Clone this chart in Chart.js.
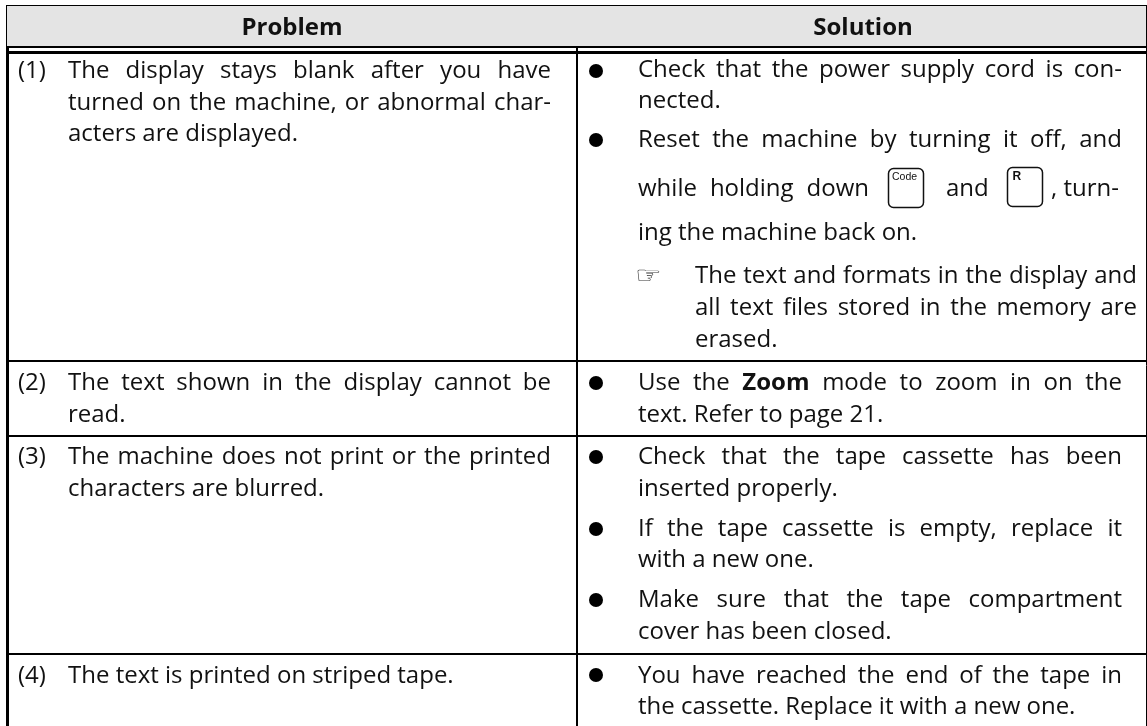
<!DOCTYPE html>
<html lang="en">
<head>
<meta charset="UTF-8">
<title>Troubleshooting</title>
<style>
	html, body { margin: 0; padding: 0; background: #fff; }
	canvas { display: block; }
</style>
</head>
<body>
<canvas id="tableChart" width="1147" height="726"></canvas>
<script src="https://cdn.jsdelivr.net/npm/chart.js"></script>
<script>
// table content
const headers = ['Problem', 'Solution'];
const problemNumbers = ['(1)', '(2)', '(3)', '(4)'];
const problemLines = [
	'The display stays blank after you have',
	'turned on the machine, or abnormal char-',
	'acters are displayed.',
	'The text shown in the display cannot be',
	'read.',
	'The machine does not print or the printed',
	'characters are blurred.',
	'The text is printed on striped tape.'
];
const solutionLines = [
	'Check that the power supply cord is con-',
	'nected.',
	'Reset the machine by turning it off, and',
	'ing the machine back on.',
	'Use the **Zoom** mode to zoom in on the',
	'text. Refer to page 21.',
	'Check that the tape cassette has been',
	'inserted properly.',
	'If the tape cassette is empty, replace it',
	'with a new one.',
	'Make sure that the tape compartment',
	'cover has been closed.',
	'You have reached the end of the tape in',
	'the cassette. Replace it with a new one.'
];
const noteLines = [
	'The text and formats in the display and',
	'all text files stored in the memory are',
	'erased.'
];
const keyLineParts = ['while holding down', 'and', ', turn-'];
const keyLabels = ['Code', 'R'];
const noteMark = '\u261E';

// layout, in the pixel units of the two axes
const columnEdges = [7, 577, 1146];
const rowEdges = [6, 46, 52, 361, 436, 654];
const numberY = [78, 390, 464, 683];
const problemY = [78, 110, 141, 390, 422, 464, 496, 683];
const problemJustified = [true, true, false, true, false, true, false, false];
const solutionY = [77, 108, 147, 240, 390, 422, 464, 496, 536, 567, 607, 639, 683, 714];
const solutionJustified = [true, false, true, false, true, false, true, false, true, false, true, false, true, false];
const noteY = [283, 315, 347];
const noteJustified = [true, true, false];
const bulletX = [596, 596, 596, 596, 596, 596, 596];
const bulletY = [71, 140, 383, 457, 529, 600, 675];
const keyLineX = [638, 946, 1051];
const keyLineEnd = 869;
const keyLineY = 196;
const keyBoxX = [888.5, 1007.5];
const keyBoxY = [168.5, 167.5];
const headerX = [292, 863];
const headerY = 35;
const headerFillX = [7, 1146];

const bodyFont = '24px "Open Sans"';
const boldFont = 'bold 24px "Open Sans"';
const inkColor = '#111';

function drawJustified(ctx, text, left, right, y, justify) {
	const words = text.split(' ').map(w => {
		const bold = w.startsWith('**');
		return { text: w.replace(/\*\*/g, ''), font: bold ? boldFont : bodyFont };
	});
	words.forEach(w => { ctx.font = w.font; w.width = ctx.measureText(w.text).width; });
	const used = words.reduce((sum, w) => sum + w.width, 0);
	ctx.font = bodyFont;
	const gap = justify ? (right - left - used) / (words.length - 1) : ctx.measureText(' ').width;
	let x = left;
	words.forEach(w => {
		ctx.font = w.font;
		ctx.fillText(w.text, x, y);
		x += w.width + gap;
	});
}

const tableText = {
	id: 'tableText',
	afterDatasetsDraw(chart) {
		const { ctx, scales: { x: sx, y: sy } } = chart;
		const px = v => sx.getPixelForValue(v);
		const py = v => sy.getPixelForValue(v);
		ctx.save();
		ctx.fillStyle = inkColor;
		ctx.textBaseline = 'alphabetic';

		ctx.textAlign = 'center';
		ctx.font = boldFont;
		headers.forEach((h, i) => ctx.fillText(h, px(headerX[i]), py(headerY)));
		ctx.textAlign = 'left';

		ctx.font = bodyFont;
		problemNumbers.forEach((n, i) => ctx.fillText(n, px(18), py(numberY[i])));
		problemLines.forEach((line, i) => drawJustified(ctx, line, px(68), px(551), py(problemY[i]), problemJustified[i]));
		solutionLines.forEach((line, i) => drawJustified(ctx, line, px(638), px(1122), py(solutionY[i]), solutionJustified[i]));
		noteLines.forEach((line, i) => drawJustified(ctx, line, px(695), px(1137), py(noteY[i]), noteJustified[i]));

		drawJustified(ctx, keyLineParts[0], px(keyLineX[0]), px(keyLineEnd), py(keyLineY), true);
		ctx.font = bodyFont;
		ctx.fillText(keyLineParts[1], px(keyLineX[1]), py(keyLineY));
		ctx.fillText(keyLineParts[2], px(keyLineX[2]), py(keyLineY));

		// key caps
		keyLabels.forEach((label, i) => {
			ctx.beginPath();
			ctx.roundRect(px(keyBoxX[i]), py(keyBoxY[i]), 35, 39, 5);
			ctx.lineWidth = 1.5;
			ctx.strokeStyle = inkColor;
			ctx.stroke();
			const isR = label === 'R';
			ctx.font = isR ? 'bold 12px "Liberation Sans"' : '10.5px "Liberation Sans"';
			ctx.fillText(label, px(keyBoxX[i]) + (isR ? 5 : 3.5), py(keyBoxY[i]) + (isR ? 12.5 : 11));
		});

		// note hand, stretched wider than the font draws it
		ctx.fillStyle = '#333';
		ctx.font = '23px "DejaVu Sans"';
		ctx.translate(px(635), py(noteY[0]));
		ctx.scale(1.3, 1);
		ctx.fillText(noteMark, 0, 0);
		ctx.restore();
	}
};

new Chart(document.getElementById('tableChart'), {
	type: 'scatter',
	data: {
		datasets: [
			{
				// grey header band
				type: 'line',
				data: headerFillX.map(x => ({ x, y: rowEdges[0] })),
				borderWidth: 0,
				pointRadius: 0,
				backgroundColor: '#e4e4e4',
				fill: { value: rowEdges[1] }
			},
			{
				data: bulletX.map((x, i) => ({ x, y: bulletY[i] })),
				pointRadius: 7,
				pointBackgroundColor: '#000',
				pointBorderWidth: 0
			}
		]
	},
	plugins: [tableText],
	options: {
		responsive: false,
		animation: false,
		events: [],
		layout: { autoPadding: false, padding: { left: 6, top: 5, right: 0, bottom: 0 } },
		plugins: { legend: { display: false }, tooltip: { enabled: false } },
		scales: {
			x: {
				type: 'linear',
				min: 6,
				max: 1147,
				border: { display: false },
				ticks: { display: false, autoSkip: false },
				grid: {
					drawTicks: false,
					color: '#000',
					lineWidth: c => (c.index === 0 ? 3 : c.index === 1 ? 2 : 1)
				},
				afterBuildTicks: scale => { scale.ticks = columnEdges.map(value => ({ value })); }
			},
			y: {
				type: 'linear',
				reverse: true,
				min: 5,
				max: 726,
				border: { display: false },
				ticks: { display: false, autoSkip: false },
				grid: {
					drawTicks: false,
					color: '#000',
					lineWidth: c => (c.index < 3 ? 3 : 2)
				},
				afterBuildTicks: scale => { scale.ticks = rowEdges.map(value => ({ value })); }
			}
		}
	}
});
</script>
</body>
</html>
